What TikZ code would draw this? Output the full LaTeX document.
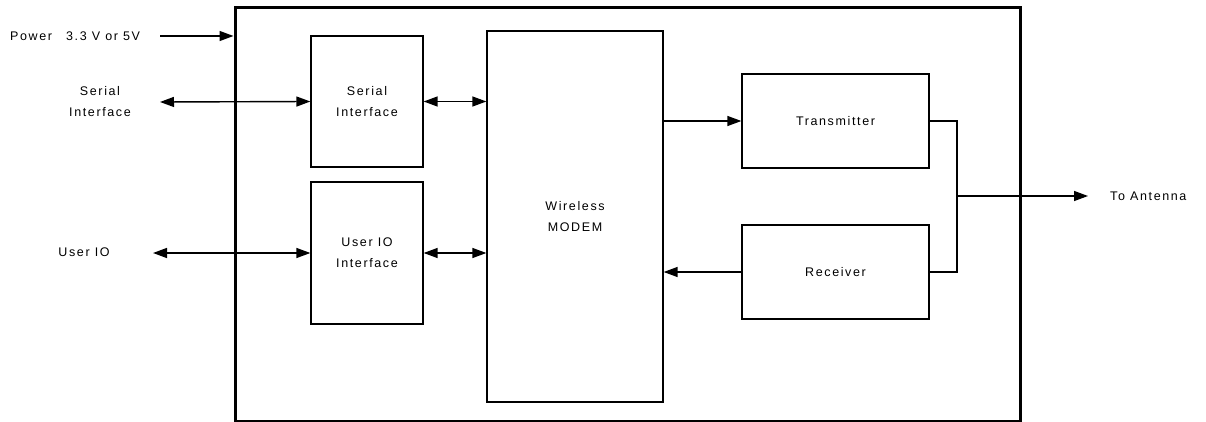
\documentclass[tikz,border=0pt]{standalone}
\usepackage{fontspec}
\setmainfont[LetterSpace=13]{Liberation Sans}
\usetikzlibrary{arrows.meta}
\begin{document}
\begin{tikzpicture}[x=1pt,y=-1pt,
  txt/.style={font=\fontsize{12.5}{21}\selectfont,align=center,inner sep=0pt},
  blk/.style={txt,draw,line width=1.3pt},
  conn/.style={line width=1.4pt},
  arr/.style={conn,-{Triangle[length=14pt,width=10pt]}},
  darr/.style={conn,{Triangle[length=14pt,width=10pt]}-{Triangle[length=14pt,width=10pt]}}]
\useasboundingbox (0,0) rectangle (1206,422);
% outer frame
\node[draw,line width=3pt,minimum width=785pt,minimum height=413pt,inner sep=0pt] (outer) at (627.5,214.5) {};
% blocks
\node[blk,minimum width=112pt,minimum height=131pt] (ser) at (367,101.5) {Serial\\Interface};
\node[blk,minimum width=112pt,minimum height=142pt] (uio) at (367,253) {User IO\\Interface};
\node[blk,minimum width=176pt,minimum height=371pt] (modem) at (575,216.5) {Wireless\\MODEM};
\node[blk,minimum width=187pt,minimum height=94pt] (tx) at (835.5,121) {Transmitter};
\node[blk,minimum width=187pt,minimum height=94pt] (rx) at (835.5,272) {Receiver};
% labels
\node[txt,anchor=west] (pwr) at (10,36) {Power\hspace{14pt}3.3 V or 5V};
\node[txt] (serlbl) at (100,102) {Serial\\Interface};
\node[txt] (uiolbl) at (84,252) {User IO};
\node[txt,anchor=west] (antlbl) at (1110,196) {To Antenna};
% free ends
\coordinate (pwrL) at (160,36);
\coordinate (serL) at (160,102);
\coordinate (uioL) at (153,253);
\coordinate (jtop) at (957,121);
\coordinate (jbot) at (957,272);
\coordinate (jn) at (957,196);
\coordinate (ant) at (1088,196);
% connectors
\draw[arr] (pwrL) -- (outer.west |- pwrL);
\draw[darr] (serL) -- (ser.west);
\draw[darr] (uioL) -- (uio.west);
\draw[darr] (ser.east) -- (modem.west |- ser.east);
\draw[darr] (uio.east) -- (modem.west |- uio.east);
\draw[arr] (modem.east |- tx.west) -- (tx.west);
\draw[arr] (rx.west) -- (modem.east |- rx.west);
\draw[conn] (tx.east) -- (jtop) -- (jbot) -- (rx.east);
\draw[arr] (jn) -- (ant);
\end{tikzpicture}
\end{document}
